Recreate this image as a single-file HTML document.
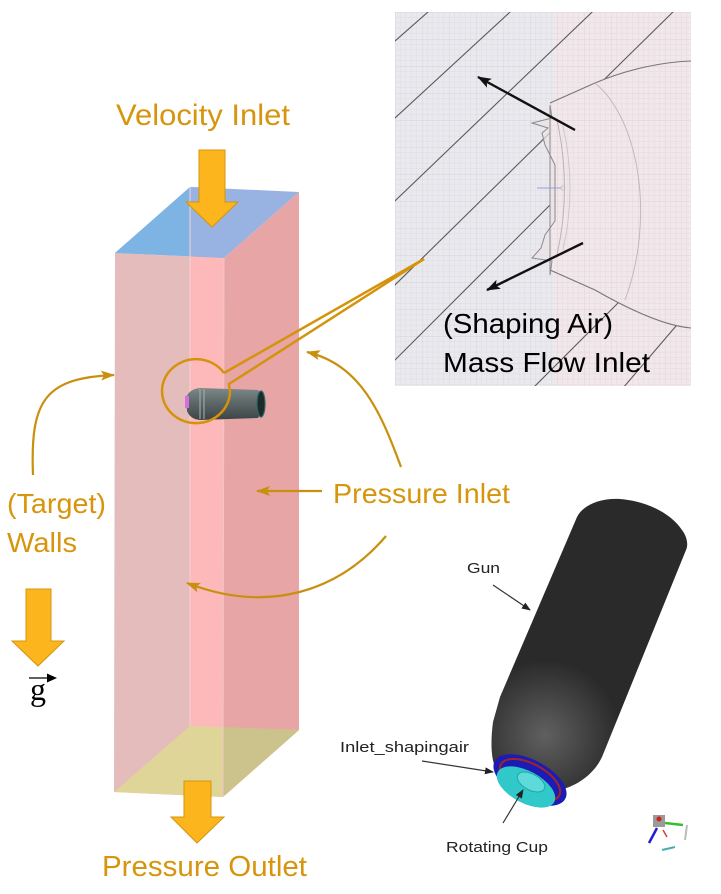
<!DOCTYPE html>
<html><head><meta charset="utf-8">
<style>
html,body{margin:0;padding:0;background:#fff;}
svg{display:block;}
text{font-family:"Liberation Sans",sans-serif;}
</style></head>
<body>
<svg width="721" height="894" viewBox="0 0 721 894" xmlns="http://www.w3.org/2000/svg">
<defs>
  <marker id="oa" markerUnits="userSpaceOnUse" markerWidth="14" markerHeight="10" refX="13" refY="5" orient="auto">
    <path d="M0,0 L14,5 L0,10 L3,5 Z" fill="#c98f0e"/>
  </marker>
  <marker id="ka" markerUnits="userSpaceOnUse" markerWidth="14" markerHeight="10" refX="13" refY="5" orient="auto">
    <path d="M0,0 L14,5 L0,10 L3,5 Z" fill="#111"/>
  </marker>
  <marker id="ga" markerUnits="userSpaceOnUse" markerWidth="9" markerHeight="7" refX="8" refY="3.5" orient="auto">
    <path d="M0,0 L9,3.5 L0,7 Z" fill="#222"/>
  </marker>
  <pattern id="grid" width="27" height="27" patternUnits="userSpaceOnUse" x="395" y="12">
    <rect width="27" height="27" fill="#eaeaee"/>
    <path d="M5.4,0V27M10.8,0V27M16.2,0V27M21.6,0V27M0,5.4H27M0,10.8H27M0,16.2H27M0,21.6H27" stroke="#dfdfe5" stroke-width="0.6"/>
    <path d="M0,0V27M0,0H27" stroke="#d2d2da" stroke-width="0.9"/>
  </pattern>
  <pattern id="grid2" width="27" height="27" patternUnits="userSpaceOnUse" x="395" y="12">
    <rect width="27" height="27" fill="#f2e7ea"/>
    <path d="M5.4,0V27M10.8,0V27M16.2,0V27M21.6,0V27M0,5.4H27M0,10.8H27M0,16.2H27M0,21.6H27" stroke="#e7dde2" stroke-width="0.6"/>
    <path d="M0,0V27M0,0H27" stroke="#dcd2d8" stroke-width="0.9"/>
  </pattern>
  <clipPath id="insetclip"><rect x="395" y="12" width="296" height="374"/></clipPath>
  <linearGradient id="smallgun" x1="0" y1="0" x2="0" y2="1">
    <stop offset="0" stop-color="#7c8787"/>
    <stop offset="0.45" stop-color="#5e6868"/>
    <stop offset="1" stop-color="#3c4545"/>
  </linearGradient>
  <radialGradient id="biggun" gradientUnits="userSpaceOnUse" cx="545" cy="735" r="75">
    <stop offset="0" stop-color="#606060"/>
    <stop offset="1" stop-color="#2a2a2a"/>
  </radialGradient>
</defs>

<!-- ===== Bottom-right gun image ===== -->
<rect x="465" y="477" width="237" height="379" fill="#fff"/>
<path d="M577,517 C583,505 600,498 620,499 C645,501 670,512 682,530 C688,538 688,546 686,550 L602,757 C595,772 580,785 560,790 L500,775 C491,766 490,745 493,722 L500,697 Z" fill="url(#biggun)"/>
<ellipse cx="530" cy="780" rx="40" ry="20" transform="rotate(28 530 780)" fill="#1c1cb4"/>
<ellipse cx="530" cy="780" rx="33" ry="16" transform="rotate(28 530 780)" fill="none" stroke="#a02525" stroke-width="2"/>
<ellipse cx="526" cy="787" rx="32" ry="16" transform="rotate(28 526 787)" fill="#30c8c8"/>
<ellipse cx="531" cy="782" rx="15" ry="8" transform="rotate(28 531 782)" fill="#5fdada" stroke="#22a6a6" stroke-width="1"/>

<g fill="#222">
  <text x="467" y="573" font-size="14.5" textLength="33" lengthAdjust="spacingAndGlyphs">Gun</text>
  <text x="340" y="752" font-size="15" textLength="129" lengthAdjust="spacingAndGlyphs">Inlet_shapingair</text>
  <text x="446" y="852" font-size="15" textLength="102" lengthAdjust="spacingAndGlyphs">Rotating Cup</text>
</g>
<g stroke="#333" stroke-width="1.2" fill="none">
  <line x1="493" y1="585" x2="530" y2="610" marker-end="url(#ga)"/>
  <line x1="422" y1="761" x2="493" y2="772" marker-end="url(#ga)"/>
  <line x1="503" y1="823" x2="523" y2="790" marker-end="url(#ga)"/>
</g>

<!-- coordinate triad -->
<rect x="653" y="815" width="12" height="12" fill="#9a9a9a"/>
<circle cx="659" cy="819" r="2.5" fill="#d02020"/>
<line x1="665" y1="823" x2="683" y2="825" stroke="#30c030" stroke-width="2.5"/>
<line x1="657" y1="828" x2="649" y2="843" stroke="#2020d0" stroke-width="2.5"/>
<line x1="663" y1="830" x2="667" y2="837" stroke="#d04040" stroke-width="1.5"/>
<line x1="687" y1="825" x2="685" y2="840" stroke="#bbb" stroke-width="2"/>
<line x1="662" y1="850" x2="675" y2="847" stroke="#40b0b0" stroke-width="2"/>

<!-- ===== Box ===== -->
<polygon points="115,253 224,258 223,797 114,792" fill="#e4bcbc"/>
<rect x="190" y="187" width="34" height="545" fill="#fdb9b9"/>
<polygon points="224,258 299,192 299,730 223,797" fill="#e8a5a5"/>
<polygon points="190,726 299,730 223,797 114,792" fill="#dfd598"/>
<polygon points="223,727 299,730 223,797" fill="#ccc28b"/>
<polygon points="190,187 299,192 224,258 115,253" fill="#98b2e1"/>
<polygon points="190,187 115,253 190,256" fill="#7eb4e4"/>
<line x1="190" y1="187" x2="190" y2="726" stroke="#f2d2d2" stroke-width="1"/>
<line x1="224" y1="258" x2="223" y2="797" stroke="#f0c6c6" stroke-width="1"/>

<!-- small gun in box -->
<path d="M200,388 L258,390 Q266,403 258,418 L200,420 Q190,419 187,411 L186,398 Q189,389 200,388 Z" fill="url(#smallgun)"/>
<rect x="185" y="396" width="4" height="12" fill="#d070e0"/>
<line x1="200" y1="389" x2="200" y2="419" stroke="#a8b2b2" stroke-width="1"/>
<line x1="204" y1="389" x2="204" y2="419" stroke="#a8b2b2" stroke-width="1"/>
<ellipse cx="261" cy="404" rx="4" ry="13" fill="#1f2a2a" stroke="#2a6a6a" stroke-width="1.2"/>

<!-- orange block arrows -->
<polygon points="199,150 225,150 225,202 238,202 212,227 186,202 199,202" fill="#fdb51e" stroke="#d4950a" stroke-width="1"/>
<polygon points="26,589 51,589 51,641 64,641 38,666 12,641 26,641" fill="#fdb51e" stroke="#d4950a" stroke-width="1"/>
<polygon points="184,781 211,781 211,817 224,817 197,843 171,817 184,817" fill="#fdb51e" stroke="#d4950a" stroke-width="1"/>

<!-- ===== Inset (top right) ===== -->
<g clip-path="url(#insetclip)">
  <rect x="395" y="12" width="296" height="374" fill="url(#grid)"/>
  <rect x="555" y="12" width="136" height="374" fill="url(#grid2)"/>
  <g stroke="#5a5a5a" stroke-width="1.1" fill="none">
    <line x1="375" y1="58.6" x2="448" y2="-5.6"/>
    <line x1="375" y1="136.4" x2="530" y2="-6.4"/>
    <line x1="375" y1="220" x2="612" y2="-7"/>
    <line x1="375" y1="304.6" x2="700" y2="-14.6"/>
    <line x1="375" y1="380" x2="700" y2="55"/>
    <line x1="515" y1="406" x2="760" y2="161"/>
    <line x1="605" y1="409" x2="700" y2="298"/>
  </g>
  <path d="M550,103 L595,83 C630,68 665,62 691,61 L691,328 C665,326 630,310 595,290 L550,270 Z" fill="url(#grid2)"/>
  <path d="M550,103 L595,83 C630,68 665,62 691,61" fill="none" stroke="#777" stroke-width="1.1"/>
  <path d="M550,270 L595,290 C630,310 665,326 691,328" fill="none" stroke="#777" stroke-width="1.1"/>
  <path d="M595,83 C640,120 655,220 625,300" fill="none" stroke="#c4b8bd" stroke-width="1"/>
  <polygon points="550,105 552,118 532,123 548,128 542,133 545,145 555,165 555,221 545,235 541,248 532,258 552,261 550,275" fill="#ebe3e7" fill-opacity="0.7" stroke="#8a8a8a" stroke-width="1"/>
  <path d="M557,120 Q572,188 557,255" fill="none" stroke="#bdb4b8" stroke-width="1"/>
  <path d="M563,126 Q577,188 563,250" fill="none" stroke="#cfc6ca" stroke-width="1"/>
  <line x1="537" y1="188" x2="561" y2="188" stroke="#9a9ae0" stroke-width="1"/>
  <circle cx="563" cy="188" r="2" fill="none" stroke="#bbb" stroke-width="0.8"/>
  <line x1="575" y1="130" x2="478" y2="77" stroke="#111" stroke-width="2.4" marker-end="url(#ka)"/>
  <line x1="583" y1="243" x2="487" y2="290" stroke="#111" stroke-width="2.4" marker-end="url(#ka)"/>
  <text x="443" y="333" font-size="28" fill="#000" textLength="170" lengthAdjust="spacingAndGlyphs">(Shaping Air)</text>
  <text x="443" y="372" font-size="28" fill="#000" textLength="207" lengthAdjust="spacingAndGlyphs">Mass Flow Inlet</text>
</g>

<!-- callout -->
<path d="M230,392 A34,32 0 1 1 224,373" fill="none" stroke="#d4930b" stroke-width="2.5"/>
<path d="M224,373 L424,259" fill="none" stroke="#d4930b" stroke-width="2.5"/>
<path d="M230,392 L229,384 L424,259" fill="none" stroke="#d4930b" stroke-width="2.5"/>

<!-- orange connectors -->
<g fill="none" stroke="#c98f0e" stroke-width="2.2">
  <path d="M33,475 C30,400 45,378 114,375" marker-end="url(#oa)"/>
  <path d="M401,467 C380,410 360,365 307,352" marker-end="url(#oa)"/>
  <path d="M322,491 L257,491" marker-end="url(#oa)"/>
  <path d="M386,536 C340,590 270,615 187,583" marker-end="url(#oa)"/>
</g>

<!-- orange labels -->
<g fill="#d6950c">
  <text x="116" y="125" font-size="30" textLength="174" lengthAdjust="spacingAndGlyphs">Velocity Inlet</text>
  <text x="333" y="503" font-size="28" textLength="177" lengthAdjust="spacingAndGlyphs">Pressure Inlet</text>
  <text x="7" y="513" font-size="28" textLength="99" lengthAdjust="spacingAndGlyphs">(Target)</text>
  <text x="7" y="552" font-size="28" textLength="70" lengthAdjust="spacingAndGlyphs">Walls</text>
  <text x="102" y="876" font-size="29" textLength="205" lengthAdjust="spacingAndGlyphs">Pressure Outlet</text>
</g>

<!-- g vector -->
<line x1="29" y1="678" x2="49" y2="678" stroke="#000" stroke-width="1.2"/>
<polygon points="47,673.5 57,678 47,682.5" fill="#000"/>
<text x="30" y="700" font-size="32" fill="#000" style="font-family:'Liberation Serif',serif">g</text>
</svg>
</body></html>
